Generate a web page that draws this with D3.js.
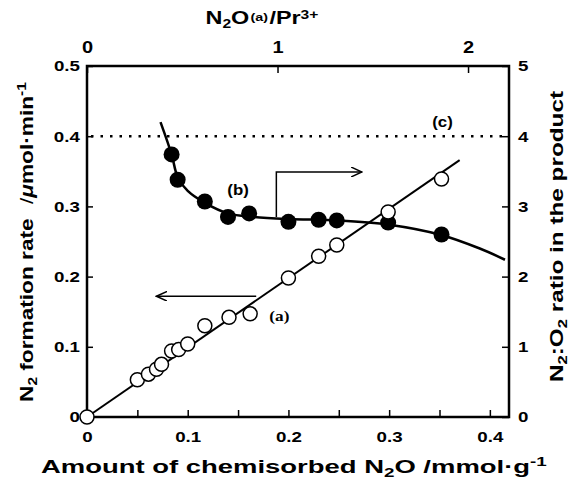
<!DOCTYPE html>
<html>
<head>
<meta charset="utf-8">
<script src="https://cdn.jsdelivr.net/npm/d3@7"></script>
<style>
body { margin: 0; background: #fff; }
svg { display: block; }
text { font-family: "Liberation Sans", Arial, sans-serif; font-weight: bold; fill: #000; }
</style>
</head>
<body>
<svg width="582" height="482"></svg>
<script>
let width = 582;
let height = 482;

let margin = {
    top: 66,
    right: 73,
    bottom: 65,
    left: 87
};

// (a) N2 formation rate, open circles, left axis
let rateX = [0, 0.050, 0.061, 0.069, 0.074, 0.084, 0.091, 0.100, 0.117, 0.141, 0.162, 0.200, 0.230, 0.248, 0.299, 0.352];
let rateY = [0, 0.053, 0.061, 0.068, 0.075, 0.094, 0.096, 0.104, 0.130, 0.142, 0.147, 0.198, 0.229, 0.245, 0.292, 0.339];
// straight fit line through (a)
let fitAX = [0, 0.370];
let fitAY = [0, 0.366];

// (b) N2:O2 ratio, filled circles, right axis
let ratioX = [0.084, 0.090, 0.117, 0.140, 0.161, 0.200, 0.230, 0.248, 0.299, 0.352];
let ratioY = [3.74, 3.38, 3.07, 2.85, 2.90, 2.78, 2.81, 2.80, 2.77, 2.60];
// hand drawn curve through (b)
let curveBX = [0.073, 0.084, 0.090, 0.100, 0.117, 0.140, 0.165, 0.200, 0.250, 0.300, 0.350, 0.390, 0.415];
let curveBY = [4.20, 3.74, 3.42, 3.22, 3.05, 2.90, 2.85, 2.82, 2.80, 2.74, 2.60, 2.40, 2.24];

// (c) dotted level
let levelC = 4;

// ticks
let bottomTicks = [0, 0.05, 0.1, 0.15, 0.2, 0.25, 0.3, 0.35, 0.4];
let bottomLabels = [0, 0.1, 0.2, 0.3, 0.4];
let topTicks = [0, 1, 2];
let leftTicks = [0, 0.1, 0.2, 0.3, 0.4, 0.5];
let rightTicks = [0, 1, 2, 3, 4, 5];

let svg = d3.select("svg");

let x = d3.scaleLinear()
    .domain([0, 0.419])
    .range([margin.left, width - margin.right]);

let xTop = d3.scaleLinear()
    .domain([0, 2.215])
    .range([margin.left, width - margin.right]);

let yL = d3.scaleLinear()
    .domain([0, 0.5])
    .range([height - margin.bottom, margin.top]);

let yR = d3.scaleLinear()
    .domain([0, 5])
    .range([height - margin.bottom, margin.top]);

// the scanned figure uses a wide bold face, so stretch text sideways
function widen(sel, origin, k) {
    sel.style("transform-box", "fill-box")
        .style("transform-origin", origin)
        .style("transform", `scaleX(${k})`);
}

// place a text centred at (cx, cy) and stretch it to a given length
function fit_text(t, cx, cy, len, angle) {
    let b = t.node().getBBox();
    let s = len / b.width;
    t.attr("transform",
        `translate(${cx},${cy}) rotate(${angle}) scale(${s},1) translate(${-(b.x + b.width / 2)},0)`);
}

function style_axis(g, size, origin) {
    g.select(".domain").remove();
    g.selectAll(".tick line").attr("stroke", "#000").attr("stroke-width", 1.5);
    g.selectAll(".tick text")
        .style("font-family", '"Liberation Sans", Arial, sans-serif')
        .style("font-weight", "bold")
        .style("font-size", size + "px")
        .attr("fill", "#000")
        .call(s => widen(s, origin, 1.25));
}

function set_axes() {
    // bottom: ticks every 0.05, labels every 0.1
    let xAxis = d3.axisBottom(x)
        .tickValues(bottomTicks)
        .tickSizeInner(-7)
        .tickSizeOuter(0)
        .tickPadding(14)
        .tickFormat(d => bottomLabels.some(v => Math.abs(v - d) < 1e-9) ? d3.format("")(d) : "");
    svg.append("g")
        .attr("transform", `translate(0,${height - margin.bottom})`)
        .call(xAxis)
        .call(g => style_axis(g, 15, "50% 50%"));

    let topAxis = d3.axisTop(xTop)
        .tickValues(topTicks)
        .tickSizeInner(-7)
        .tickSizeOuter(0)
        .tickPadding(13)
        .tickFormat(d3.format("d"));
    svg.append("g")
        .attr("transform", `translate(0,${margin.top})`)
        .call(topAxis)
        .call(g => style_axis(g, 16, "50% 50%"));

    let leftAxis = d3.axisLeft(yL)
        .tickValues(leftTicks)
        .tickSizeInner(-6)
        .tickSizeOuter(0)
        .tickPadding(7)
        .tickFormat(d => d === 0 ? "0" : d3.format(".1f")(d));
    svg.append("g")
        .attr("transform", `translate(${margin.left},0)`)
        .call(leftAxis)
        .call(g => style_axis(g, 15, "100% 50%"));

    let rightAxis = d3.axisRight(yR)
        .tickValues(rightTicks)
        .tickSizeInner(-7)
        .tickSizeOuter(0)
        .tickPadding(9)
        .tickFormat(d3.format("d"));
    svg.append("g")
        .attr("transform", `translate(${width - margin.right},0)`)
        .call(rightAxis)
        .call(g => style_axis(g, 15, "0% 50%"));

    // frame
    svg.append("rect")
        .attr("x", margin.left)
        .attr("y", margin.top)
        .attr("width", width - margin.left - margin.right)
        .attr("height", height - margin.top - margin.bottom)
        .attr("fill", "none")
        .attr("stroke", "#000")
        .attr("stroke-width", 2.5);
}

function add_titles() {
    // bottom title
    let bt = svg.append("text").style("font-size", "19px");
    bt.append("tspan").text("Amount of chemisorbed N");
    bt.append("tspan").text("2").attr("dy", 4).style("font-size", "13px");
    bt.append("tspan").text("O /mmol·g").attr("dy", -4);
    bt.append("tspan").text("-1").attr("dy", -7).style("font-size", "13px");
    fit_text(bt, 294, 473, 506, 0);

    // top title
    let tt = svg.append("text").style("font-size", "18px");
    tt.append("tspan").text("N");
    tt.append("tspan").text("2").attr("dy", 4).style("font-size", "12px");
    tt.append("tspan").text("O").attr("dy", -4);
    tt.append("tspan").text("(a)").attr("dy", -3).attr("dx", 1).style("font-size", "11px");
    tt.append("tspan").text("/Pr").attr("dy", 3).attr("dx", 1);
    tt.append("tspan").text("3+").attr("dy", -5).style("font-size", "12px");
    fit_text(tt, 262, 24, 113, 0);

    // left title
    let lt = svg.append("text").style("font-size", "19px");
    lt.append("tspan").text("N");
    lt.append("tspan").text("2").attr("dy", 4).style("font-size", "13px");
    lt.append("tspan").text(" formation rate").attr("dy", -4);
    lt.append("tspan").text("/").attr("dx", 12).style("font-weight", "normal");
    lt.append("tspan").text("μ").style("font-style", "italic");
    lt.append("tspan").text("mol·min");
    lt.append("tspan").text("-1").attr("dy", -7).style("font-size", "13px");
    fit_text(lt, 33, 242, 320, -90);

    // right title
    let rt = svg.append("text").style("font-size", "19px");
    rt.append("tspan").text("N");
    rt.append("tspan").text("2").attr("dy", 4).style("font-size", "13px");
    rt.append("tspan").text(":O").attr("dy", -4);
    rt.append("tspan").text("2").attr("dy", 4).style("font-size", "13px");
    rt.append("tspan").text(" ratio in the product").attr("dy", -4);
    fit_text(rt, 563, 236, 292, -90);
}

function add_lines() {
    // dotted (c) level
    svg.append("line")
        .attr("x1", margin.left + 4)
        .attr("x2", width - margin.right - 2)
        .attr("y1", yR(levelC))
        .attr("y2", yR(levelC))
        .attr("stroke", "#000")
        .attr("stroke-width", 2.5)
        .attr("stroke-dasharray", "2.5,7");

    // fit line (a)
    let lineA = d3.line()
        .x((d, i) => x(fitAX[i]))
        .y((d, i) => yL(fitAY[i]));
    svg.append("path")
        .attr("d", lineA(fitAX))
        .attr("fill", "none")
        .attr("stroke", "#000")
        .attr("stroke-width", 2);

    // curve (b)
    let lineB = d3.line()
        .x((d, i) => x(curveBX[i]))
        .y((d, i) => yR(curveBY[i]))
        .curve(d3.curveCatmullRom);
    svg.append("path")
        .attr("d", lineB(curveBX))
        .attr("fill", "none")
        .attr("stroke", "#000")
        .attr("stroke-width", 2.5);
}

function add_points() {
    svg.append("g")
        .selectAll("circle")
        .data(ratioX)
        .join("circle")
        .attr("cx", d => x(d))
        .attr("cy", (d, i) => yR(ratioY[i]))
        .attr("r", 8)
        .attr("fill", "#000");

    svg.append("g")
        .selectAll("circle")
        .data(rateX)
        .join("circle")
        .attr("cx", d => x(d))
        .attr("cy", (d, i) => yL(rateY[i]))
        .attr("r", 7)
        .attr("fill", "#fff")
        .attr("stroke", "#000")
        .attr("stroke-width", 1.5);
}

function add_arrows() {
    // open arrow head marker
    svg.append("defs").append("marker")
        .attr("id", "head")
        .attr("viewBox", "0 0 12 10")
        .attr("refX", 11)
        .attr("refY", 5)
        .attr("markerWidth", 12)
        .attr("markerHeight", 10)
        .attr("markerUnits", "userSpaceOnUse")
        .attr("orient", "auto")
        .append("path")
        .attr("d", "M0,0 L11,5 L0,10")
        .attr("fill", "none")
        .attr("stroke", "#000")
        .attr("stroke-width", 1.5);

    // arrow from (a) pointing to the left axis
    svg.append("line")
        .attr("x1", x(0.168))
        .attr("x2", x(0.069))
        .attr("y1", yL(0.172))
        .attr("y2", yL(0.172))
        .attr("stroke", "#000")
        .attr("stroke-width", 1.5)
        .attr("marker-end", "url(#head)");

    // arrow from (b) pointing to the right axis
    svg.append("path")
        .attr("d", `M${x(0.188)},${yR(2.85)} L${x(0.188)},${yR(3.49)} L${x(0.273)},${yR(3.49)}`)
        .attr("fill", "none")
        .attr("stroke", "#000")
        .attr("stroke-width", 1.5)
        .attr("marker-end", "url(#head)");
}

function add_labels() {
    svg.append("text")
        .attr("x", x(0.191))
        .attr("y", yL(0.144))
        .attr("dy", "0.35em")
        .style("font-family", '"Liberation Serif", serif')
        .style("font-size", "15px")
        .attr("text-anchor", "middle")
        .text("(a)")
        .call(s => widen(s, "50% 50%", 1.15));

    svg.append("text")
        .attr("x", x(0.150))
        .attr("y", yR(3.23))
        .attr("dy", "0.35em")
        .attr("text-anchor", "middle")
        .style("font-size", "14px")
        .text("(b)")
        .call(s => widen(s, "50% 50%", 1.2));

    svg.append("text")
        .attr("x", x(0.353))
        .attr("y", yR(4.2))
        .attr("dy", "0.35em")
        .attr("text-anchor", "middle")
        .style("font-size", "14px")
        .text("(c)")
        .call(s => widen(s, "50% 50%", 1.2));
}

set_axes();
add_lines();
add_points();
add_arrows();
add_labels();
add_titles();
</script>
</body>
</html>
